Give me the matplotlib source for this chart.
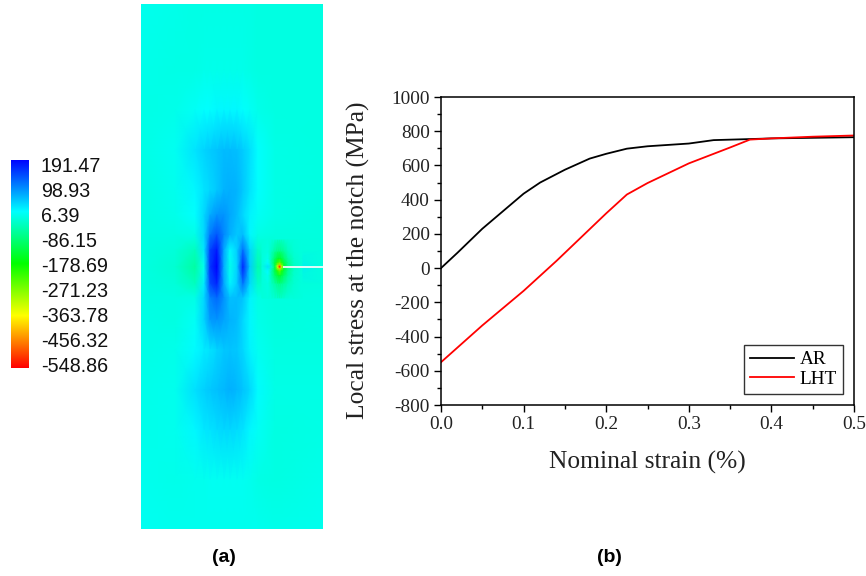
import numpy as np
import matplotlib
matplotlib.use('Agg')
import matplotlib.pyplot as plt
from matplotlib.colors import LinearSegmentedColormap

W, H = 866, 576
plt.rcParams['axes.unicode_minus'] = False

# --- Stress field (pixel-like positions) ---
field_x = [141, 175, 195, 204, 210, 217, 224, 230, 237, 243, 250, 258, 275, 323]
field_y = [4, 70, 110, 150, 190, 215, 235, 250, 267, 284, 298, 320, 350, 390, 430, 480, 529]
field_vals = [
    [-8, -10, -12, -12, -12, -12, -12, -12, -12, -12, -12, -14, -15, -14],
    [-10, -12, -12, -10, -10, -9, -9, -9, -9, -10, -12, -14, -15, -15],
    [-12, -10, -2, 4, 6, 10, 12, 12, 10, 6, 0, -10, -15, -15],
    [-13, -4, 26, 36, 42, 48, 54, 54, 52, 42, 28, 4, -12, -15],
    [-14, -6, 12, 24, 34, 46, 60, 64, 59, 44, 24, 4, -11, -16],
    [-15, -10, 4, 34, 66, 82, 82, 70, 54, 34, 14, -2, -13, -17],
    [-16, -16, -12, 34, 104, 128, 92, 62, 44, 54, 10, -13, -18, -18],
    [-16, -22, -40, 24, 140, 172, 70, 12, 40, 110, 34, -32, -20, -18],
    [-16, -26, -62, -8, 150, 195, 62, -8, 36, 165, 42, -52, 28, -18],
    [-15, -22, -40, 18, 135, 165, 68, 14, 42, 105, 30, -32, -20, -17],
    [-14, -16, -12, 34, 96, 116, 84, 52, 54, 49, 14, -13, -18, -16],
    [-13, -14, 0, 36, 76, 84, 72, 59, 54, 34, 10, -10, -18, -15],
    [-12, -10, 8, 18, 26, 38, 44, 48, 46, 34, 14, -4, -15, -14],
    [-10, -6, 28, 40, 46, 52, 58, 62, 58, 48, 34, 8, -11, -12],
    [-9, -8, 12, 22, 26, 32, 34, 34, 32, 24, 12, -2, -14, -12],
    [-7, -10, -8, -6, -5, -3, -3, -3, -3, -5, -8, -13, -14, -10],
    [-5, -6, -6, -6, -6, -6, -6, -6, -6, -6, -6, -8, -9, -6],
]

# small patch round the notch tip
notch_x = [262, 268, 272, 275, 277.5, 279.5, 281.5, 284, 288, 294, 302]
notch_y = [240, 252, 259, 263, 265.5, 267, 268.5, 271, 276, 284, 298]
notch_vals = [
    [-20, -18, -22, -28, -32, -34, -32, -30, -24, -20, -18],
    [-20, -16, -44, -70, -85, -90, -85, -70, -42, -24, -18],
    [-20, -8, -62, -110, -145, -155, -140, -105, -62, -30, -18],
    [-20, 8, -62, -135, -215, -260, -205, -130, -74, -34, -18],
    [-20, 20, -46, -135, -295, -425, -285, -140, -76, -36, -18],
    [-20, 26, -34, -130, -345, -548, -335, -140, -78, -36, -18],
    [-20, 20, -46, -135, -295, -415, -285, -140, -76, -36, -18],
    [-20, 8, -62, -130, -205, -255, -200, -130, -74, -34, -18],
    [-20, -8, -60, -105, -135, -148, -132, -102, -62, -30, -18],
    [-20, -16, -40, -60, -75, -82, -75, -64, -44, -26, -18],
    [-20, -18, -20, -26, -30, -32, -30, -28, -22, -20, -18],
]

# --- Colour scale ---
scale_labels = ['191.47', '98.93', '6.39', '-86.15', '-178.69',
                '-271.23', '-363.78', '-456.32', '-548.86']
scale_min, scale_max = -548.86, 191.47
rainbow = LinearSegmentedColormap.from_list(
    'rainbow_fe', ['#ff0000', '#ffff00', '#00ff00', '#00ffff', '#0000ff'])

# --- Curves ---
strain_ar = [0.0, 0.02, 0.05, 0.1, 0.12, 0.15, 0.18, 0.2, 0.225, 0.25, 0.3, 0.33, 0.38, 0.4, 0.5]
stress_ar = [0, 90, 230, 435, 500, 575, 640, 668, 698, 712, 728, 748, 755, 758, 765]
strain_lht = [0.0, 0.05, 0.1, 0.14, 0.2, 0.225, 0.25, 0.3, 0.35, 0.374, 0.4, 0.45, 0.5]
stress_lht = [-550, -335, -133, 43, 320, 430, 497, 612, 705, 751, 758, 768, 775]

y_ticks = [-800, -600, -400, -200, 0, 200, 400, 600, 800, 1000]
x_ticks = [0.0, 0.1, 0.2, 0.3, 0.4, 0.5]

SERIF = ['Liberation Serif', 'DejaVu Serif']
SANS = ['Liberation Sans', 'DejaVu Sans']


def px_axes(left, top, right, bottom):
    return fig.add_axes([left / W, 1 - bottom / H, (right - left) / W, (bottom - top) / H])


fig = plt.figure(figsize=(W / 100, H / 100), dpi=100, facecolor='white')

# --- (a) field ---
ax_f = px_axes(141, 4, 323, 529)
ax_f.pcolormesh(field_x, field_y, np.array(field_vals), shading='gouraud',
                cmap=rainbow, vmin=scale_min, vmax=scale_max)
ax_f.pcolormesh(notch_x, notch_y, np.array(notch_vals), shading='gouraud',
                cmap=rainbow, vmin=scale_min, vmax=scale_max)
ax_f.plot([283, 323], [267, 267], color='#f4fbfa', lw=1.3, solid_capstyle='butt')
ax_f.set_xlim(141, 323)
ax_f.set_ylim(529, 4)
ax_f.axis('off')

# colour bar, drawn from the same scale
ax_c = px_axes(11, 160, 29, 368)
ax_c.imshow(np.linspace(scale_max, scale_min, 256)[:, None], aspect='auto', cmap=rainbow,
            vmin=scale_min, vmax=scale_max)
ax_c.axis('off')
for i, lab in enumerate(scale_labels):
    fig.text(41 / W, 1 - (166 + i * 25.1) / H, lab, family=SANS, fontsize=14.2,
             ha='left', va='center', color='#111111')

# --- (b) curves ---
ax = px_axes(441, 97, 854, 405)
ax.plot(strain_ar, stress_ar, color='black', lw=1.3, label='AR')
ax.plot(strain_lht, stress_lht, color='red', lw=1.3, label='LHT')
ax.set_xlim(0, 0.5)
ax.set_ylim(-800, 1000)
ax.set_xticks(x_ticks)
ax.set_yticks(y_ticks)
ax.set_xticks(np.arange(0.05, 0.5, 0.1), minor=True)
ax.set_yticks(np.arange(-700, 1000, 200), minor=True)
ax.tick_params(which='major', length=5, width=1, pad=3, labelsize=13.9)
ax.tick_params(which='minor', length=3, width=1)
for s in ax.spines.values():
    s.set_linewidth(1.1)
for t in ax.get_xticklabels() + ax.get_yticklabels():
    t.set_family(SERIF)
    t.set_color('#222222')
ax.set_xlabel('Nominal strain (%)', family=SERIF, fontsize=18.4, labelpad=13, color='#222222')
ax.set_ylabel('Local stress at the notch (MPa)', family=SERIF, fontsize=18.4, color='#222222')
ax.yaxis.set_label_coords((370 - 441) / 413, (405 - 260) / 308)
leg = ax.legend(loc='lower right', bbox_to_anchor=((843 - 441) / 413, (405 - 394) / 308),
                prop={'family': SERIF, 'size': 13.9}, fancybox=False, framealpha=1,
                edgecolor='#333333', borderpad=0.3, labelspacing=0.12, handlelength=2.28,
                handletextpad=0.3, borderaxespad=0)
leg.get_frame().set_linewidth(1)

fig.text(224 / W, 1 - 558 / H, '(a)', family=SANS, weight='bold', fontsize=14, ha='center', va='center')
fig.text(609 / W, 1 - 558 / H, '(b)', family=SANS, weight='bold', fontsize=14, ha='center', va='center')

fig.savefig('out.png', dpi=100)
